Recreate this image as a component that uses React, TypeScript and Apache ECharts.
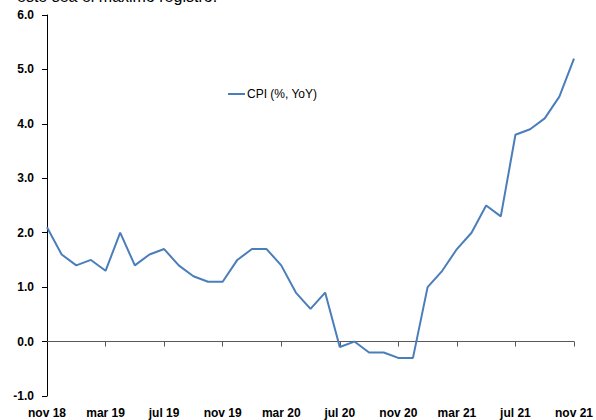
import React, { useEffect, useRef } from "react";
import * as echarts from "echarts";

const months = [
  "nov 18","dic 18","ene 19","feb 19","mar 19","abr 19","may 19","jun 19","jul 19","ago 19","sep 19","oct 19",
  "nov 19","dic 19","ene 20","feb 20","mar 20","abr 20","may 20","jun 20","jul 20","ago 20","sep 20","oct 20",
  "nov 20","dic 20","ene 21","feb 21","mar 21","abr 21","may 21","jun 21","jul 21","ago 21","sep 21","oct 21","nov 21",
];
const tickLabels = ["nov 18","mar 19","jul 19","nov 19","mar 20","jul 20","nov 20","mar 21","jul 21","nov 21"];
const cpi = [
  2.1, 1.6, 1.4, 1.5, 1.3, 2.0, 1.4, 1.6, 1.7, 1.4, 1.2, 1.1,
  1.1, 1.5, 1.7, 1.7, 1.4, 0.9, 0.6, 0.9, -0.1, 0.0, -0.2, -0.2,
  -0.3, -0.3, 1.0, 1.3, 1.7, 2.0, 2.5, 2.3, 3.8, 3.9, 4.1, 4.5, 5.2,
];
const seriesName = "CPI (%, YoY)";
const headerText = "este sea el máximo registro.";

export default function App() {
  const ref = useRef<HTMLDivElement>(null);
  useEffect(() => {
    if (!ref.current) return;
    const chart = echarts.init(ref.current, undefined, { renderer: "svg" });
    const font = "Liberation Sans, Arial, sans-serif";
    chart.setOption({
      animation: false,
      textStyle: { fontFamily: font },
      grid: { left: 47, right: 22, top: 15, bottom: 24, containLabel: false },
      legend: {
        left: 223,
        top: 83,
        icon: "rect",
        itemWidth: 17,
        itemHeight: 2,
        itemGap: 2,
        textStyle: { fontSize: 12, color: "#000", fontFamily: font, padding: [0, 0, 0, -3] },
        data: [seriesName],
      },
      graphic: [
        {
          type: "text",
          left: 17,
          top: -12,
          style: { text: headerText, fontSize: 16, fill: "#000", font: "16px Liberation Sans, Arial, sans-serif" },
        },
      ],
      xAxis: [
        {
          type: "category",
          data: months,
          boundaryGap: false,
          axisLine: { onZero: true, lineStyle: { color: "#595959", width: 1 } },
          axisTick: {
            show: true,
            length: 5,
            interval: (i: number) => tickLabels.includes(months[i]) && i > 0,
            lineStyle: { color: "#595959" },
          },
          axisLabel: { show: false },
          splitLine: { show: false },
        },
        {
          type: "category",
          data: months,
          boundaryGap: false,
          position: "bottom",
          axisLine: { show: false, onZero: false },
          axisTick: { show: false },
          axisLabel: {
            show: true,
            interval: (i: number) => tickLabels.includes(months[i]),
            margin: 11,
            fontSize: 12,
            fontWeight: "bold",
            color: "#000",
            fontFamily: font,
          },
          splitLine: { show: false },
        },
      ],
      yAxis: {
        type: "value",
        min: -1,
        max: 6,
        interval: 1,
        axisLine: { show: true, lineStyle: { color: "#000", width: 1 } },
        axisTick: { show: true, length: 5, inside: false, lineStyle: { color: "#000" } },
        axisLabel: {
          formatter: (v: number) => v.toFixed(1),
          fontSize: 12,
          fontWeight: "bold",
          color: "#000",
          margin: 13,
          fontFamily: font,
        },
        splitLine: { show: false },
      },
      series: [
        {
          name: seriesName,
          type: "line",
          xAxisIndex: 0,
          data: cpi,
          showSymbol: false,
          symbol: "none",
          lineStyle: { color: "#4a7ebb", width: 2 },
          itemStyle: { color: "#4a7ebb" },
        },
      ],
    });
    return () => chart.dispose();
  }, []);
  return (
    <div
      ref={ref}
      style={{ position: "fixed", left: 0, top: 0, width: 596, height: 420, background: "#fff" }}
    />
  );
}
